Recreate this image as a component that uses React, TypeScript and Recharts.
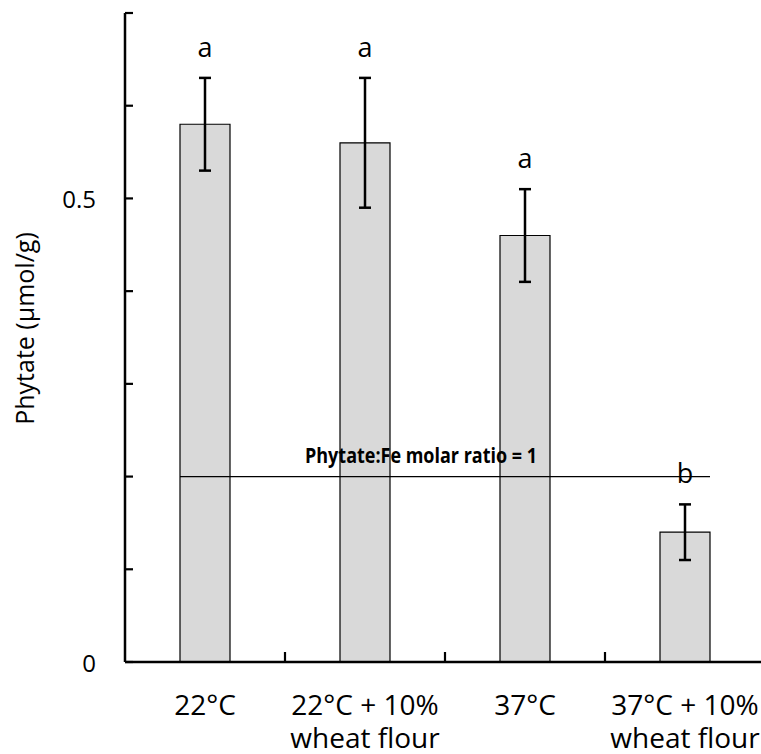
import React from 'react';
import {
  BarChart,
  Bar,
  XAxis,
  YAxis,
  ErrorBar,
  LabelList,
  ReferenceLine,
} from 'recharts';

// categories, split in two label lines
const CATEGORIES = ['22°C', '22°C + 10%', '37°C', '37°C + 10%'];
const CATEGORY_SUB = ['', 'wheat flour', '', 'wheat flour'];

// phytate means and their error (µmol/g)
const PHYTATE = [0.58, 0.56, 0.46, 0.14];
const PHYTATE_ERR = [0.05, 0.07, 0.05, 0.03];
const SIG_LETTERS = ['a', 'a', 'a', 'b'];

const Y_TICKS = [0, 0.1, 0.2, 0.3, 0.4, 0.5, 0.6, 0.7];
const Y_LABELED = [0, 0.5];

const MOLAR_RATIO_LEVEL = 0.2;
const MOLAR_RATIO_TEXT = 'Phytate:Fe molar ratio = 1';

const FONT = '"Open Sans", "DejaVu Sans", sans-serif';
const BAR_SIZE = 50;

const data = CATEGORIES.map((name, i) => ({
  name,
  sub: CATEGORY_SUB[i],
  value: PHYTATE[i],
  err: PHYTATE_ERR[i],
  letter: SIG_LETTERS[i],
}));

const YTick = (props: any) => {
  const { x, y, payload } = props;
  const show = Y_LABELED.includes(payload.value);
  return (
    <g>
      <line x1={x} x2={x + 8} y1={y} y2={y} stroke="#000" strokeWidth={2.2} />
      {show && (
        <text
          x={x - 29}
          y={y}
          textAnchor="end"
          dominantBaseline="central"
          fontSize={24}
          fontFamily={FONT}
          fill="#000"
        >
          {payload.value}
        </text>
      )}
    </g>
  );
};

const XTick = (props: any) => {
  const { x, y, payload, index, width, visibleTicksCount } = props;
  const half =
    payload.offset && payload.offset > 0
      ? payload.offset
      : width / (visibleTicksCount || CATEGORIES.length) / 2;
  const bx = x + half;
  return (
    <g>
      {index < CATEGORIES.length - 1 && (
        <line x1={bx} x2={bx} y1={y} y2={y - 10} stroke="#000" strokeWidth={2.2} />
      )}
      <text x={x} y={y + 53} textAnchor="middle" fontSize={28} fontFamily={FONT} fill="#000">
        {payload.value}
      </text>
      {CATEGORY_SUB[index] && (
        <text x={x} y={y + 86} textAnchor="middle" fontSize={28} fontFamily={FONT} fill="#000">
          {CATEGORY_SUB[index]}
        </text>
      )}
    </g>
  );
};

const LetterLabel = (props: any) => {
  const { x, y, width, height, index, value } = props;
  const d = data[index];
  const pxPerUnit = height / d.value;
  const errTop = y - d.err * pxPerUnit;
  return (
    <text
      x={x + width / 2}
      y={errTop - 21}
      textAnchor="middle"
      fontSize={27}
      fontFamily={FONT}
      fill="#000"
    >
      {value}
    </text>
  );
};

const RatioLine = (props: any) => {
  const { x1, y1, x2, y2 } = props;
  return (
    <g>
      <line
        x1={x1 - BAR_SIZE / 2}
        x2={x2 + BAR_SIZE / 2}
        y1={y1}
        y2={y2}
        stroke="#000"
        strokeWidth={1.2}
      />
      <text
        x={(x1 + x2) / 2 - 24}
        y={y1 - 14}
        textAnchor="middle"
        fontSize={22}
        fontWeight="bold"
        fontFamily={FONT}
        textLength={232}
        lengthAdjust="spacingAndGlyphs"
        fill="#000"
      >
        {MOLAR_RATIO_TEXT}
      </text>
    </g>
  );
};

const YLabel = (props: any) => {
  const { viewBox } = props;
  const cx = viewBox.x + 24;
  const cy = viewBox.y + viewBox.height / 2 - 9;
  return (
    <text
      x={cx}
      y={cy}
      transform={`rotate(-90, ${cx}, ${cy})`}
      textAnchor="middle"
      dominantBaseline="central"
      fontSize={25}
      fontFamily={FONT}
      fill="#000"
    >
      Phytate (µmol/g)
    </text>
  );
};

export default function App() {
  return (
    <div
      style={{
        position: 'absolute',
        left: 0,
        top: 0,
        width: 761,
        height: 754,
        overflow: 'hidden',
        background: '#fff',
      }}
    >
      <BarChart
        width={800}
        height={754}
        data={data}
        margin={{ top: 13, right: 35, bottom: 0, left: 0 }}
      >
        <XAxis
          dataKey="name"
          height={92}
          tickLine={false}
          tickSize={0}
          tickMargin={0}
          tick={<XTick />}
          interval={0}
          axisLine={{ stroke: '#000', strokeWidth: 2.5 }}
        />
        <YAxis
          width={125}
          domain={[0, 0.7]}
          ticks={Y_TICKS}
          interval={0}
          tickLine={false}
          tickSize={0}
          tickMargin={0}
          tick={<YTick />}
          axisLine={{ stroke: '#000', strokeWidth: 2.5 }}
          label={<YLabel />}
        />
        <Bar
          dataKey="value"
          barSize={BAR_SIZE}
          fill="#d9d9d9"
          stroke="#000"
          strokeWidth={1.2}
          isAnimationActive={false}
        >
          <ErrorBar
            dataKey="err"
            width={6}
            stroke="#000"
            strokeWidth={2.5}
            isAnimationActive={false}
          />
          <LabelList dataKey="letter" content={<LetterLabel />} />
        </Bar>
        <ReferenceLine
          segment={[
            { x: CATEGORIES[0], y: MOLAR_RATIO_LEVEL },
            { x: CATEGORIES[CATEGORIES.length - 1], y: MOLAR_RATIO_LEVEL },
          ]}
          shape={<RatioLine />}
        />
      </BarChart>
    </div>
  );
}
